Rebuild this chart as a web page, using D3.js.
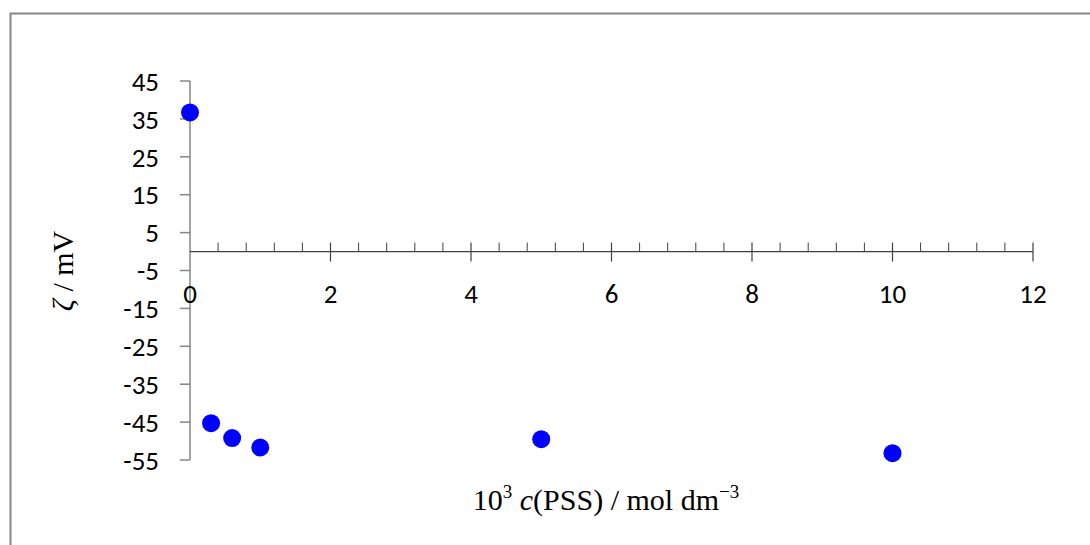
<!DOCTYPE html>
<html>
<head>
<meta charset="utf-8">
<script src="https://cdn.jsdelivr.net/npm/d3@7"></script>
<style>
    body { margin: 0; background: #fff; }
    svg { display: block; }
</style>
</head>
<body>
<svg id="chart" width="1090" height="545"></svg>
<script>
    'use strict';

    // concentration, 10^3 c(PSS) / mol dm^-3
    var concentration = [0, 0.3, 0.6, 1.0, 5, 10];
    // zeta potential / mV
    var zeta = [36.7, -45.3, -49.2, -51.7, -49.5, -53.2];

    var yTicks = [45, 35, 25, 15, 5, -5, -15, -25, -35, -45, -55];
    var xTicks = [0, 2, 4, 6, 8, 10, 12];

    var tickFont = 'Carlito, "Open Sans", "Liberation Sans", sans-serif';
    var titleFont = '"Liberation Serif", "DejaVu Serif", serif';

    var svg = d3.select('#chart');

    // outer chart frame, only top and left edges visible
    svg.append('rect')
        .attr('x', 10.5).attr('y', 13.5)
        .attr('width', 1100).attr('height', 560)
        .attr('fill', 'none')
        .attr('stroke', '#868686')
        .attr('stroke-width', 2);

    var x = d3.scaleLinear().domain([0, 12]).range([190, 1033]);
    var y = d3.scaleLinear().domain([-55, 45]).range([460, 81]);

    // y axis
    var yAxis = svg.append('g');
    yAxis.append('line')
        .attr('x1', x(0)).attr('x2', x(0))
        .attr('y1', y(45)).attr('y2', y(-55))
        .attr('stroke', '#868686').attr('stroke-width', 1.5);
    yAxis.selectAll('line.tick')
        .data(yTicks)
        .enter().append('line')
        .attr('class', 'tick')
        .attr('x1', x(0) - 10).attr('x2', x(0))
        .attr('y1', function(d) { return y(d); })
        .attr('y2', function(d) { return y(d); })
        .attr('stroke', '#868686').attr('stroke-width', 1.5);
    yAxis.selectAll('text')
        .data(yTicks)
        .enter().append('text')
        .style('font-family', tickFont)
        .style('font-size', '27px')
        .attr('x', 159)
        .attr('y', function(d) { return y(d); })
        .attr('dy', '0.36em')
        .attr('text-anchor', 'end')
        .text(function(d) { return d; });

    // x axis along zero
    var xAxis = svg.append('g');
    xAxis.append('line')
        .attr('x1', x(0)).attr('x2', x(12))
        .attr('y1', y(0)).attr('y2', y(0))
        .attr('stroke', '#404040').attr('stroke-width', 1.2);

    var minorTicks = d3.range(0, 12.001, 0.4).filter(function(d) {
        return Math.abs(d / 2 - Math.round(d / 2)) > 0.01;
    });
    xAxis.selectAll('line.minor')
        .data(minorTicks)
        .enter().append('line')
        .attr('class', 'minor')
        .attr('x1', function(d) { return x(d); })
        .attr('x2', function(d) { return x(d); })
        .attr('y1', y(0) - 9).attr('y2', y(0))
        .attr('stroke', '#404040').attr('stroke-width', 1);
    xAxis.selectAll('line.major')
        .data(xTicks.slice(1))
        .enter().append('line')
        .attr('class', 'major')
        .attr('x1', function(d) { return x(d); })
        .attr('x2', function(d) { return x(d); })
        .attr('y1', y(0) - 9).attr('y2', y(0) + 10)
        .attr('stroke', '#404040').attr('stroke-width', 1.2);
    xAxis.selectAll('text')
        .data(xTicks)
        .enter().append('text')
        .style('font-family', tickFont)
        .style('font-size', '27px')
        .attr('x', function(d) { return x(d); })
        .attr('y', 293)
        .attr('dy', '0.36em')
        .attr('text-anchor', 'middle')
        .text(function(d) { return d; });

    // points
    svg.append('g')
        .selectAll('circle')
        .data(concentration)
        .enter().append('circle')
        .attr('cx', function(d) { return x(d); })
        .attr('cy', function(d, i) { return y(zeta[i]); })
        .attr('r', 9)
        .attr('fill', '#0000ff');

    // axis titles
    var xTitle = svg.append('text')
        .style('font-family', titleFont)
        .style('font-size', '30px')
        .attr('x', 606)
        .attr('y', 510)
        .attr('text-anchor', 'middle');
    xTitle.append('tspan').text('10');
    xTitle.append('tspan').attr('dy', -12).style('font-size', '19px').text('3');
    xTitle.append('tspan').attr('dy', 12).text(' ');
    xTitle.append('tspan').attr('font-style', 'italic').text('c');
    xTitle.append('tspan').text('(PSS) / mol dm');
    xTitle.append('tspan').attr('dy', -12).style('font-size', '19px').text('\u22123');

    var yTitle = svg.append('text')
        .style('font-family', titleFont)
        .style('font-size', '30px')
        .attr('transform', 'translate(73,271) rotate(-90)')
        .attr('text-anchor', 'middle');
    yTitle.append('tspan').attr('font-style', 'italic').text('\u03B6');
    yTitle.append('tspan').text(' / mV');
</script>
</body>
</html>
